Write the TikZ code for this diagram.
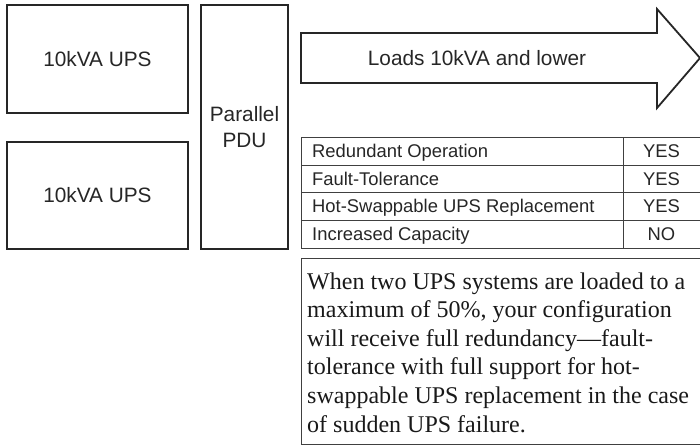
\documentclass[tikz,border=0pt]{standalone}
\usepackage{fontspec}
\setmainfont{Liberation Serif}
\newfontfamily\arialf{Liberation Sans}
\begin{document}
\begin{tikzpicture}[x=1pt,y=-1pt,
  bigbox/.style={draw=black!85, line width=1.8pt, inner sep=0pt},
  bigtext/.style={font=\arialf\fontsize{20.8}{26}\selectfont, text=black!85, align=center},
  tabtext/.style={font=\arialf\fontsize{18.4}{22}\selectfont, text=black!85, inner sep=0pt},
  thinline/.style={draw=black!75, line width=0.9pt}]
\useasboundingbox (0,0) rectangle (700,447);
% UPS boxes and PDU
\node[bigbox, minimum width=181, minimum height=108] (ups1) at (97.5,59) {};
\node[bigbox, minimum width=181, minimum height=107] (ups2) at (97.5,195.5) {};
\node[bigbox, minimum width=87, minimum height=244] (pdu) at (244.5,127) {};
\node[bigtext] (ups1t) at (ups1.center) {10kVA UPS};
\node[bigtext] (ups2t) at (ups2.center) {10kVA UPS};
\node[bigtext] (pdut) at (pdu.center) {Parallel\\PDU};
% Arrow
\draw[draw=black!85, line width=1.8pt, line join=miter]
  (301,33) -- (657,33) -- (657,9) -- (700,58) -- (657,108) -- (657,83) -- (301,83) -- cycle;
\node[bigtext] (arrt) at (477,58) {Loads 10kVA and lower};
% Table
\draw[thinline] (301,137) rectangle (700,248);
\draw[thinline] (623,137) -- (623,248);
\draw[thinline] (301,165) -- (700,165);
\draw[thinline] (301,192) -- (700,192);
\draw[thinline] (301,220) -- (700,220);
\node[tabtext, anchor=base west] (r1) at (312,157.5) {Redundant Operation};
\node[tabtext, anchor=base west] (r2) at (312,185) {Fault-Tolerance};
\node[tabtext, anchor=base west] (r3) at (312,212.5) {Hot-Swappable UPS Replacement};
\node[tabtext, anchor=base west] (r4) at (312,240.5) {Increased Capacity};
\node[tabtext, anchor=base] (v1) at (661.5,157.5) {YES};
\node[tabtext, anchor=base] (v2) at (661.5,185) {YES};
\node[tabtext, anchor=base] (v3) at (661.5,212.5) {YES};
\node[tabtext, anchor=base] (v4) at (661.5,240.5) {NO};
% Text box
\draw[thinline] (301,258) rectangle (700,444);
\node[anchor=base west, inner sep=0pt, align=left, text=black!90,
  font=\fontsize{24}{28.6}\selectfont] (desc) at (307,432)
  {When two UPS systems are loaded to a\\
   maximum of 50\%, your configuration\\
   will receive full redundancy---fault-\\
   tolerance with full support for hot-\\
   swappable UPS replacement in the case\\
   of sudden UPS failure.};
\end{tikzpicture}
\end{document}
